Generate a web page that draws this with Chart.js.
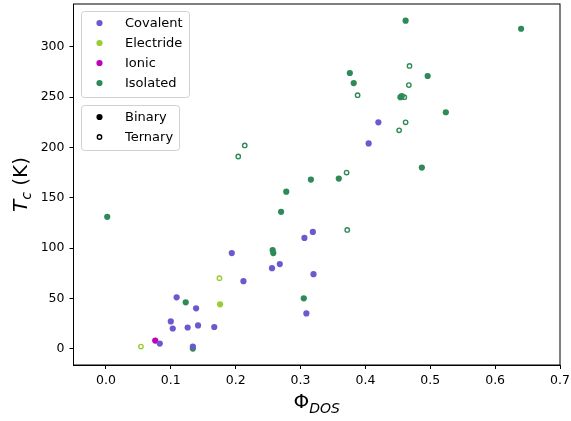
<!DOCTYPE html>
<html>
<head>
<meta charset="utf-8">
<script src="https://cdn.jsdelivr.net/npm/chart.js@4/dist/chart.umd.min.js"></script>
<style>
  html, body { margin: 0; padding: 0; background: #fff; }
  #wrap { width: 571px; height: 421px; }
</style>
</head>
<body>
<div id="wrap"><canvas id="myChart" width="571" height="421"></canvas></div>
<script>
// Datos: Phi_DOS (x) y Tc en K (y)
const covalentBinX = [0.420, 0.405, 0.319, 0.306, 0.194, 0.268, 0.256, 0.320, 0.212, 0.109, 0.139, 0.309, 0.100, 0.103, 0.126, 0.142, 0.167, 0.083, 0.134]
const covalentBinY = [225, 204, 116, 110, 95, 84, 80, 74, 67, 51, 40, 35, 27, 20, 21, 23, 21.5, 5, 2]

const electrideBinX = [0.176]
const electrideBinY = [44]
const electrideTerX = [0.175, 0.054]
const electrideTerY = [70, 2]

const ionicBinX = [0.076]
const ionicBinY = [8]

const isolatedBinX = [0.462, 0.640, 0.376, 0.496, 0.382, 0.454, 0.456, 0.524, 0.487, 0.359, 0.316, 0.278, 0.270, 0.002, 0.257, 0.258, 0.305, 0.123, 0.134]
const isolatedBinY = [326, 318, 274, 271, 264, 250, 251, 235, 180, 169, 168, 156, 136, 131, 98, 95, 50, 46, 0]
const isolatedTerX = [0.468, 0.467, 0.388, 0.460, 0.462, 0.452, 0.371, 0.214, 0.204, 0.372]
const isolatedTerY = [281, 262, 252, 250, 225, 217, 175, 202, 191, 118]

const xTicks = [0.0, 0.1, 0.2, 0.3, 0.4, 0.5, 0.6, 0.7]
const yTicks = [0, 50, 100, 150, 200, 250, 300]

const classNames = ['Covalent', 'Electride', 'Ionic', 'Isolated']
const classColors = ['#6a5acd', '#9acd32', '#bf00bf', '#2e8b57']
const shapeNames = ['Binary', 'Ternary']

const FONT = "'DejaVu Sans', sans-serif"

const toPoints = (xs, ys) => xs.map((x, i) => ({ x, y: ys[i] }))

const filled = (xs, ys, color) => ({
    data: toPoints(xs, ys),
    pointRadius: 3.1,
    pointHoverRadius: 3.1,
    pointBackgroundColor: color,
    pointBorderWidth: 0,
    showLine: false
})

const hollow = (xs, ys, color) => ({
    data: toPoints(xs, ys),
    pointRadius: 2.2,
    pointHoverRadius: 2.2,
    pointBackgroundColor: '#ffffff',
    pointBorderColor: color,
    pointBorderWidth: 1.4,
    showLine: false
})

// sin relleno extra de las etiquetas: el área queda fija
const noPad = scale => {
    scale.paddingTop = 0
    scale.paddingBottom = 0
    scale.paddingLeft = 0
    scale.paddingRight = 0
}

// Plugin: marco, leyendas y títulos de ejes
const extrasPlugin = {
    id: 'extras',
    afterDraw(chart) {
        const { ctx, chartArea: a } = chart
        ctx.save()

        // marco completo
        ctx.strokeStyle = '#000'
        ctx.lineWidth = 1
        ctx.strokeRect(a.left, a.top, a.right - a.left, a.bottom - a.top)

        const box = (x, y, w, h) => {
            const r = 3
            ctx.beginPath()
            ctx.moveTo(x + r, y)
            ctx.arcTo(x + w, y, x + w, y + h, r)
            ctx.arcTo(x + w, y + h, x, y + h, r)
            ctx.arcTo(x, y + h, x, y, r)
            ctx.arcTo(x, y, x + w, y, r)
            ctx.closePath()
            ctx.fillStyle = 'rgba(255,255,255,0.8)'
            ctx.fill()
            ctx.strokeStyle = '#d0d0d0'
            ctx.lineWidth = 1
            ctx.stroke()
        }

        ctx.font = `13px ${FONT}`
        ctx.textBaseline = 'middle'
        ctx.textAlign = 'left'

        // leyenda de clases
        box(81.5, 11.5, 108, 86)
        classNames.forEach((name, i) => {
            const y = 23 + i * 20
            ctx.beginPath()
            ctx.arc(99.5, y, 3.1, 0, Math.PI * 2)
            ctx.fillStyle = classColors[i]
            ctx.fill()
            ctx.fillStyle = '#000'
            ctx.fillText(name, 125, y + 1)
        })

        // leyenda de tipo
        box(81.5, 105.5, 98, 45)
        shapeNames.forEach((name, i) => {
            const y = 117 + i * 20
            ctx.beginPath()
            if (i === 0) {
                ctx.arc(99.5, y, 3.1, 0, Math.PI * 2)
                ctx.fillStyle = '#000'
                ctx.fill()
            } else {
                ctx.arc(99.5, y, 2.2, 0, Math.PI * 2)
                ctx.fillStyle = '#fff'
                ctx.fill()
                ctx.strokeStyle = '#000'
                ctx.lineWidth = 1.4
                ctx.stroke()
            }
            ctx.fillStyle = '#000'
            ctx.fillText(name, 125, y + 1)
        })

        // título eje x: Φ_DOS
        ctx.textBaseline = 'alphabetic'
        ctx.font = `20px ${FONT}`
        const phiW = ctx.measureText('Φ').width
        ctx.font = `italic 14px ${FONT}`
        const subW = ctx.measureText('DOS').width
        const cx = (a.left + a.right) / 2
        let x0 = cx - (phiW + subW) / 2
        ctx.font = `20px ${FONT}`
        ctx.fillText('Φ', x0, 408)
        ctx.font = `italic 14px ${FONT}`
        ctx.fillText('DOS', x0 + phiW, 413)

        // título eje y: T_c (K)
        ctx.translate(27, (a.top + a.bottom) / 2)
        ctx.rotate(-Math.PI / 2)
        ctx.font = `italic 20px ${FONT}`
        const tW = ctx.measureText('T').width
        ctx.font = `italic 14px ${FONT}`
        const cW = ctx.measureText('c').width
        ctx.font = `20px ${FONT}`
        const kW = ctx.measureText(' (K)').width
        x0 = -(tW + cW + kW) / 2
        ctx.font = `italic 20px ${FONT}`
        ctx.fillText('T', x0, 0)
        ctx.font = `italic 14px ${FONT}`
        ctx.fillText('c', x0 + tW, 3.5)
        ctx.font = `20px ${FONT}`
        ctx.fillText(' (K)', x0 + tW + cW, 0)

        ctx.restore()
    }
}

const ctx = document.getElementById('myChart').getContext('2d')
const myChart = new Chart(ctx, {
    type: 'scatter',
    data: {
        datasets: [
            filled(covalentBinX, covalentBinY, classColors[0]),
            filled(electrideBinX, electrideBinY, classColors[1]),
            hollow(electrideTerX, electrideTerY, classColors[1]),
            filled(ionicBinX, ionicBinY, classColors[2]),
            filled(isolatedBinX, isolatedBinY, classColors[3]),
            hollow(isolatedTerX, isolatedTerY, classColors[3])
        ]
    },
    options: {
        responsive: false,
        animation: false,
        layout: {
            padding: { top: 4, right: 11, left: 0, bottom: 0 }
        },
        scales: {
            x: {
                type: 'linear',
                min: -0.05,
                max: 0.7,
                afterBuildTicks: scale => { scale.ticks = xTicks.map(v => ({ value: v })) },
                afterFit: scale => { scale.height = 56; noPad(scale) },
                ticks: {
                    color: '#000',
                    font: { family: FONT, size: 12.5 },
                    padding: 4,
                    maxRotation: 0,
                    callback: v => v.toFixed(1)
                },
                grid: { drawOnChartArea: false, drawTicks: true, tickLength: 4, color: '#000' },
                border: { display: true, color: '#000', width: 1 }
            },
            y: {
                type: 'linear',
                min: -16.3,
                max: 342.6,
                afterBuildTicks: scale => { scale.ticks = yTicks.map(v => ({ value: v })) },
                afterFit: scale => { scale.width = 73.5; noPad(scale) },
                ticks: {
                    color: '#000',
                    font: { family: FONT, size: 12.5 },
                    padding: 5,
                    callback: v => String(v)
                },
                grid: { drawOnChartArea: false, drawTicks: true, tickLength: 4, color: '#000' },
                border: { display: true, color: '#000', width: 1 }
            }
        },
        plugins: {
            legend: { display: false },
            tooltip: { enabled: false }
        }
    },
    plugins: [extrasPlugin]
})
</script>
</body>
</html>
